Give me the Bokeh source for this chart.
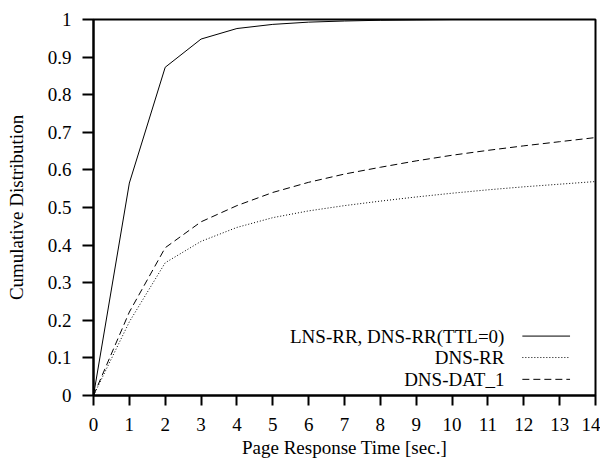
from bokeh.plotting import figure
from bokeh.embed import file_html
from bokeh.resources import INLINE
from bokeh.models import Range1d, FixedTicker, Label, Title

# ---- data ----
t_sec = [0, 1, 2, 3, 4, 5, 6, 7, 8, 9, 10, 11, 12, 13, 14]
lns_rr = [0.0, 0.565, 0.873, 0.948, 0.976, 0.987, 0.993, 0.996, 0.998, 0.999, 1.0, 1.0, 1.0, 1.0, 1.0]
dns_rr = [0.0, 0.196, 0.353, 0.410, 0.447, 0.473, 0.491, 0.505, 0.517, 0.528, 0.538, 0.547, 0.555, 0.562, 0.569]
dns_dat1 = [0.0, 0.222, 0.393, 0.462, 0.505, 0.540, 0.567, 0.589, 0.607, 0.624, 0.639, 0.652, 0.664, 0.675, 0.686]

series_names = ["LNS-RR, DNS-RR(TTL=0)", "DNS-RR", "DNS-DAT_1"]

x_ticks = list(range(0, 15))
x_tick_labels = [str(v) for v in x_ticks]
y_ticks = [0, 0.1, 0.2, 0.3, 0.4, 0.5, 0.6, 0.7, 0.8, 0.9, 1]
y_tick_labels = ["0", "0.1", "0.2", "0.3", "0.4", "0.5", "0.6", "0.7", "0.8", "0.9", "1"]
x_title = "Page Response Time [sec.]"
y_title = "Cumulative Distribution"

FONT = "Liberation Serif"
FS = "19px"

p = figure(width=600, height=461, output_backend="svg", toolbar_location=None,
           x_range=Range1d(0, 14), y_range=Range1d(0, 1),
           min_border_left=93, min_border_right=5, min_border_top=19, min_border_bottom=66)

p.background_fill_color = "white"
p.border_fill_color = "white"
p.outline_line_color = "black"
p.outline_line_width = 2
p.grid.visible = False

for ax in (p.xaxis[0], p.yaxis[0]):
    ax.axis_line_width = 2
    ax.axis_line_color = "black"
    ax.major_tick_line_width = 2
    ax.major_tick_line_color = "black"
    ax.major_tick_in = 0
    ax.minor_tick_line_color = None
    ax.major_label_text_font = FONT
    ax.major_label_text_font_size = FS
    ax.major_label_text_color = "black"
    ax.axis_label_text_font = FONT
    ax.axis_label_text_font_size = FS
    ax.axis_label_text_font_style = "normal"
    ax.axis_label_text_color = "black"

p.xaxis.ticker = FixedTicker(ticks=x_ticks)
p.xaxis.major_label_overrides = {v: l for v, l in zip(x_ticks, x_tick_labels)}
p.yaxis.ticker = FixedTicker(ticks=y_ticks)
p.yaxis.major_label_overrides = {v: l for v, l in zip(y_ticks, y_tick_labels)}

p.xaxis.major_tick_out = 10
p.xaxis.major_label_standoff = 12

p.yaxis.major_tick_out = 11
p.yaxis.major_label_standoff = 11
p.yaxis.axis_label = y_title
p.yaxis.axis_label_standoff = 18

# x-axis title as a "below" title (takes less layout space than an axis label)
p.add_layout(Title(text=x_title, align="center", standoff=2, offset=3,
                   text_font=FONT, text_font_size=FS, text_font_style="normal",
                   text_color="black"), "below")

styles = [None, "1 2", "7 4"]
data = [lns_rr, dns_rr, dns_dat1]
for ys, dash in zip(data, styles):
    kw = {} if dash is None else {"line_dash": dash}
    p.line(t_sec, ys, line_color="black", line_width=1, **kw)

# ---- legend (gnuplot style: text right-aligned, sample line to its right) ----
leg_text_x = 11.46
leg_line_x0, leg_line_x1 = 11.96, 13.29
leg_rows = [0.158, 0.101, 0.043]
for name, dash, yy in zip(series_names, styles, leg_rows):
    p.add_layout(Label(x=leg_text_x, y=yy, text=name, text_align="right",
                       text_baseline="middle", text_font=FONT, text_font_size=FS,
                       text_color="black"))
    kw = {} if dash is None else {"line_dash": dash}
    p.line([leg_line_x0, leg_line_x1], [yy, yy], line_color="black", line_width=1, **kw)

open("out.html", "w").write(file_html(p, INLINE))
